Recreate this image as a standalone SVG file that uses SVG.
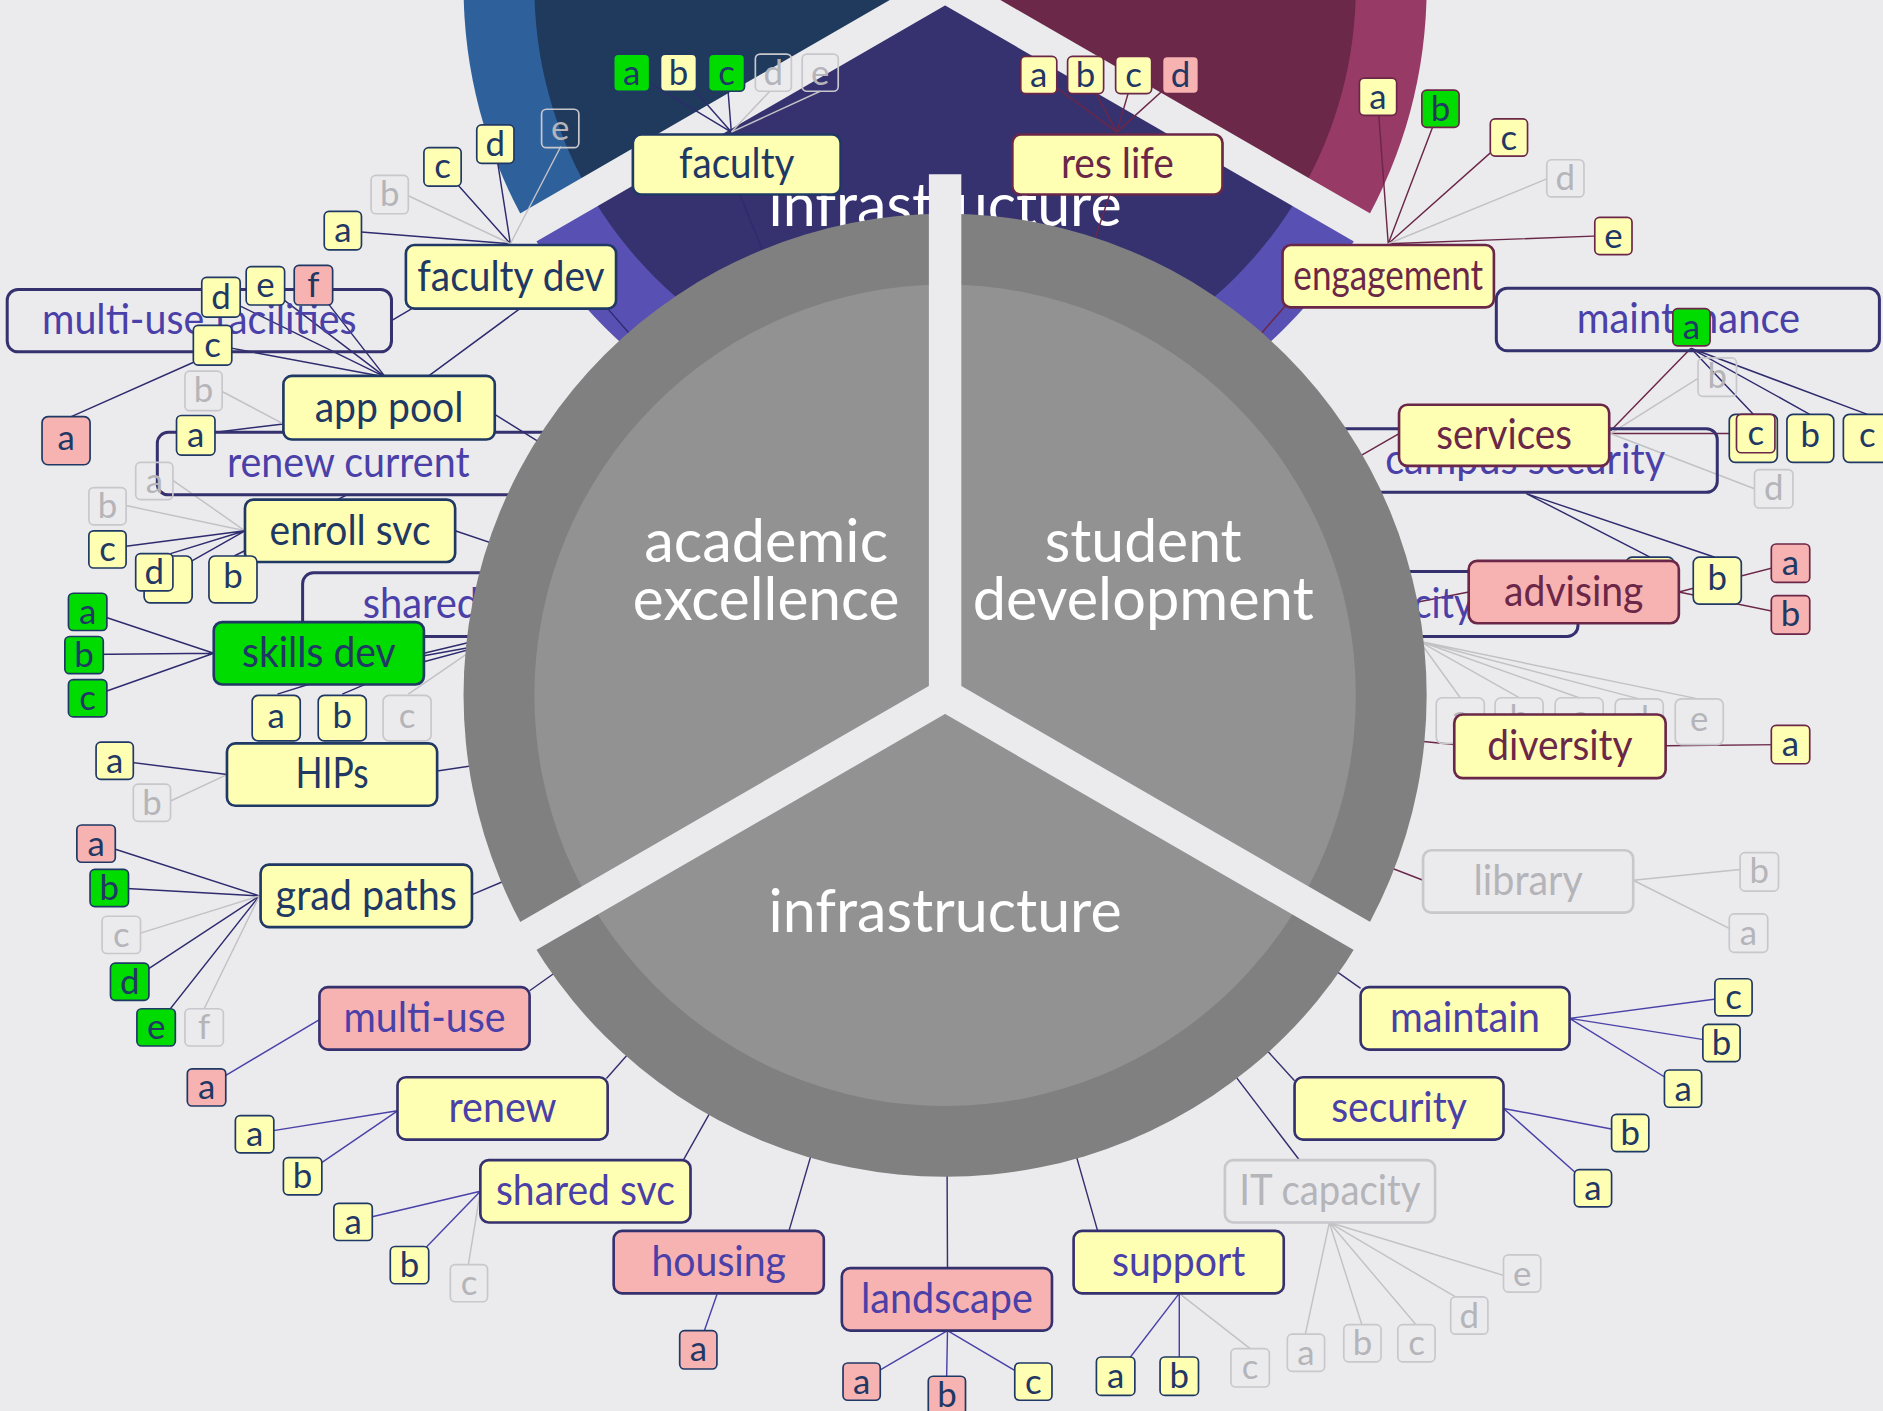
<svg xmlns="http://www.w3.org/2000/svg" width="1883" height="1411" viewBox="0 0 1883 1411">
<defs>
<style>
text{font-family:Lato,"Open Sans","Liberation Sans",sans-serif;text-anchor:middle}
.t1{font-size:35px}
.t2{font-size:29px}
.ta{fill:#1F3864}.tm{fill:#6B2748}.ti{fill:#4A40A8}.tg{fill:#B5B5B9}
.Y{fill:#FFFFB3}.P{fill:#F7B2B2}.G{fill:#00DC00}.N{fill:none}
.sa{stroke:#1F3864}.sm{stroke:#6B2748}.si{stroke:#35306E}.sg{stroke:#C8C8CC}
.b1{stroke-width:2.2}.b2{stroke-width:1.4}
.ln{fill:none;stroke-width:1.2}
.la{stroke:#2E2B6E}.lm{stroke:#6B2748}.li{stroke:#4A42A8}.lc{stroke:#35306E}.lg{stroke:#C2C2C6}
.ob{fill:none;stroke:#35306E;stroke-width:2.5}
.pt{fill:#FFFFFF;font-size:50px}
.gap{fill:none;stroke:#EBEBEE;stroke-width:27}
</style>
</defs>
<rect width="1883" height="1411" fill="#EBEBEE"/>
<g transform="scale(1.20089)">
<g id="top-pie">
<path d="M787,-11 L439.73,189.5 A401,401 0 0 1 787,-412 Z" fill="#2E619C"/>
<path d="M787,-11 L787,-412 A401,401 0 0 1 1134.27,189.5 Z" fill="#983A66"/>
<path d="M787,-11 L1134.27,189.5 A401,401 0 0 1 439.73,189.5 Z" fill="#5850B2"/>
<path d="M787,-11 L490.82,160 A342,342 0 0 1 787,-353 Z" fill="#1F3A5D"/>
<path d="M787,-11 L787,-353 A342,342 0 0 1 1083.18,160 Z" fill="#6B2849"/>
<path d="M787,-11 L1083.18,160 A342,342 0 0 1 490.82,160 Z" fill="#36316F"/>
<path class="gap" d="M787,-11 L411.1,206 M787,-11 L1162.9,206 M787,-11 V-500"/>
<text class="pt" x="787" y="188" textLength="294" lengthAdjust="spacingAndGlyphs">infrastructure</text>
</g>
<g id="connectors">
<path class="ln la" d="M526,60 L609,110 M565,60 L609,110 M605,60 L609,110"/>
<path class="ln lg" d="M641,76 L609,110 M683,76 L609,110"/>
<path class="ln la" d="M285,192 L425,203 M368,139 L425,203 M412,120 L425,203"/>
<path class="ln lg" d="M340,163 L425,203 M467,122 L425,203"/>
<path class="ln la" d="M184,247 L321,314 M221,238 L321,314 M261,237 L321,314 M177,287 L321,314 M163,362 L236,353 M57,348 L165,300 M343,257 L326,267 M433,257 L357,313"/>
<path class="ln lg" d="M185,326 L236,353"/>
<path class="ln lg" d="M144,400 L204,442 M105,421 L204,442"/>
<path class="ln la" d="M89,457 L204,442 M142,461 L204,442 M144,476 L204,442 M195,463 L205,458 M281,416 L289,412"/>
<path class="ln la" d="M73,509 L178,544 M70,545 L178,544 M73,581 L178,544 M231,578 L260,569 M285,578 L306,569 M353,544 L420,528 M353,546 L420,534 M353,551 L420,533"/>
<path class="ln lg" d="M340,578 L420,523"/>
<path class="ln la" d="M95,633 L189,645"/>
<path class="ln lg" d="M142,667 L189,645"/>
<path class="ln la" d="M80,702 L216,746 M91,739 L216,746 M108,817 L216,746 M130,855 L216,746"/>
<path class="ln lg" d="M117,777 L216,746 M170,840 L216,746"/>
<path class="ln la" d="M616,162 L787,579 M506,257 L787,579 M412,345 L787,579 M379,442 L787,579 M364,642 L787,579 M393,745 L787,579"/>
<path class="ln lm" d="M865,62 L930,110 M904,62 L930,110 M944,62 L930,110 M983,62 L930,110"/>
<path class="ln lm" d="M1147,80 L1156,203 M1199,90 L1156,203 M1256,114 L1156,203 M1343,196 L1156,203"/>
<path class="ln lg" d="M1288,149 L1156,203"/>
<path class="ln lm" d="M1341,361 L1462,361 M1408,290 L1341,359"/>
<path class="ln lg" d="M1341,361 L1414,315 M1341,361 L1461,407"/>
<path class="ln la" d="M1408,290 L1460,345 M1408,290 L1507,345 M1408,290 L1555,345 M1271,411 L1374,464 M1271,411 L1428,464"/>
<path class="ln lm" d="M1398,493 L1491,469 M1398,493 L1491,512 M1387,621 L1491,620"/>
<path class="ln lg" d="M1360,733 L1449,724 M1360,733 L1440,773"/>
<path class="ln lg" d="M1182,534 L1216,581 M1182,534 L1265,581 M1182,534 L1315,581 M1182,534 L1365,582 M1182,534 L1414,582"/>
<path class="ln lm" d="M924,162 L787,579 M1070,255 L787,579 M1165,361 L787,579 M1223,493 L787,579 M1211,620 L787,579 M1185,733 L787,579"/>
<path class="ln li" d="M172,905 L266,849 M212,944 L331,925 M252,979 L331,925 M294,1017 L400,992 M341,1053 L400,992 M581,1124 L597,1078 M717,1150 L789,1108 M788,1162 L789,1108 M860,1150 L789,1108 M929,1146 L982,1077 M982,1146 L982,1077 M1357,943 L1252,923 M1326,989 L1252,923 M1443,830 L1307,848 M1433,868 L1307,848 M1401,906 L1307,848"/>
<path class="ln lg" d="M390,1053 L400,992 M1041,1123 L982,1077 M1087,1111 L1107,1018 M1134,1103 L1107,1018 M1179,1103 L1107,1018 M1212,1080 L1107,1018 M1252,1062 L1107,1018"/>
<path class="ln lc" d="M441,825 L787,579 M505,898 L787,579 M569,966 L787,579 M657,1025 L787,579 M789,1056 L787,579 M914,1025 L787,579 M1082,966 L787,579 M1078,900 L787,579 M1133,823 L787,579"/>
</g>
<g id="outline-boxes">
<g id="o-multi-use-facilities"><rect class="ob" x="6" y="241" width="320" height="52" rx="9"/><text class="t1 ti" x="166" y="278.5" textLength="262" lengthAdjust="spacingAndGlyphs">multi-use facilities</text></g>
<g id="o-renew-current"><rect class="ob" x="131" y="360" width="350" height="52" rx="9"/><text class="t1 ti" x="290" y="397.5" textLength="202" lengthAdjust="spacingAndGlyphs">renew current</text></g>
<g id="o-shared"><rect class="ob" x="252" y="477" width="230" height="53" rx="9"/><text class="t1 ti" x="302" y="515" style="text-anchor:start" textLength="97" lengthAdjust="spacingAndGlyphs">shared</text></g>
<g id="o-city"><rect class="ob" x="1090" y="476" width="224" height="54" rx="9"/><text class="t1 ti" x="1227" y="515" style="text-anchor:end" textLength="50" lengthAdjust="spacingAndGlyphs">city</text></g>
<g id="o-campus-security"><rect class="ob" x="1095" y="357" width="335" height="53" rx="9"/><text class="t1 ti" x="1270" y="395" textLength="233" lengthAdjust="spacingAndGlyphs">campus security</text></g>
<g id="o-maintenance"><rect class="ob" x="1246" y="240" width="319" height="52" rx="9"/><text class="t1 ti" x="1406" y="277.5" textLength="186" lengthAdjust="spacingAndGlyphs">maintenance</text></g>
</g>
<g id="main-pie">
<circle cx="787" cy="579" r="401" fill="#808080"/>
<circle cx="787" cy="579" r="342" fill="#929292"/>
<path class="gap" d="M787,579 V145 M787,579 L411.1,796 M787,579 L1162.9,796"/>
<text class="pt" x="638" y="468" textLength="203" lengthAdjust="spacingAndGlyphs">academic</text>
<text class="pt" x="638" y="516" textLength="222" lengthAdjust="spacingAndGlyphs">excellence</text>
<text class="pt" x="952" y="468" textLength="164" lengthAdjust="spacingAndGlyphs">student</text>
<text class="pt" x="952" y="516" textLength="284" lengthAdjust="spacingAndGlyphs">development</text>
<text class="pt" x="787" y="776" textLength="294" lengthAdjust="spacingAndGlyphs">infrastructure</text>
</g>
<g id="nodes">
<g id="n-faculty"><rect class="Y sa b1" x="527" y="112" width="173" height="50" rx="7"/><text class="t1 ta" x="613.5" y="148.5" textLength="96" lengthAdjust="spacingAndGlyphs">faculty</text></g>
<g id="fa-a"><rect class="G sa b2" x="511" y="45" width="30" height="31" rx="4"/><text class="t2 ta" x="526" y="70.5">a</text></g>
<g id="fa-b"><rect class="Y sa b2" x="550" y="45" width="30" height="31" rx="4"/><text class="t2 ta" x="565" y="70.5">b</text></g>
<g id="fa-c"><rect class="G sa b2" x="590" y="45" width="30" height="31" rx="4"/><text class="t2 ta" x="605" y="70.5">c</text></g>
<g id="fa-d"><rect class="N sg b2" x="629" y="45" width="30" height="31" rx="4"/><text class="t2 tg" x="644" y="70.5">d</text></g>
<g id="fa-e"><rect class="N sg b2" x="668" y="45" width="30" height="31" rx="4"/><text class="t2 tg" x="683" y="70.5">e</text></g>

<g id="n-faculty-dev"><rect class="Y sa b1" x="338" y="204" width="175" height="53" rx="7"/><text class="t1 ta" x="425.5" y="242" textLength="156" lengthAdjust="spacingAndGlyphs">faculty dev</text></g>
<g id="fd-a"><rect class="Y sa b2" x="270" y="176" width="31" height="32" rx="4"/><text class="t2 ta" x="285.5" y="201.5">a</text></g>
<g id="fd-b"><rect class="N sg b2" x="309" y="146" width="31" height="32" rx="4"/><text class="t2 tg" x="324.5" y="171.5">b</text></g>
<g id="fd-c"><rect class="Y sa b2" x="353" y="123" width="31" height="32" rx="4"/><text class="t2 ta" x="368.5" y="148.5">c</text></g>
<g id="fd-d"><rect class="Y sa b2" x="397" y="104" width="31" height="32" rx="4"/><text class="t2 ta" x="412.5" y="129.5">d</text></g>
<g id="fd-e"><rect class="N sg b2" x="451" y="91" width="31" height="32" rx="4"/><text class="t2 tg" x="466.5" y="116.5">e</text></g>

<g id="n-app-pool"><rect class="Y sa b1" x="236" y="313" width="176" height="53" rx="7"/><text class="t1 ta" x="324" y="351" textLength="124" lengthAdjust="spacingAndGlyphs">app pool</text></g>
<g id="ap-d"><rect class="Y sa b2" x="168" y="231" width="32" height="33" rx="4"/><text class="t2 ta" x="184" y="257">d</text></g>
<g id="ap-e"><rect class="Y sa b2" x="205" y="222" width="32" height="32" rx="4"/><text class="t2 ta" x="221" y="247.5">e</text></g>
<g id="ap-f"><rect class="P sa b2" x="245" y="221" width="32" height="33" rx="4"/><text class="t2 ta" x="261" y="247">f</text></g>
<g id="ap-c"><rect class="Y sa b2" x="161" y="271" width="32" height="33" rx="4"/><text class="t2 ta" x="177" y="297">c</text></g>
<g id="ap-b"><rect class="N sg b2" x="154" y="309" width="31" height="33" rx="4"/><text class="t2 tg" x="169.5" y="335">b</text></g>
<g id="ap-a"><rect class="Y sa b2" x="147" y="346" width="32" height="33" rx="4"/><text class="t2 ta" x="163" y="372">a</text></g>
<g id="ap-a2"><rect class="P sa b2" x="35" y="347" width="40" height="40" rx="5"/><text class="t2 ta" x="55" y="375">a</text></g>

<g id="n-enroll-svc"><rect class="Y sa b1" x="204" y="416" width="175" height="52" rx="7"/><text class="t1 ta" x="291.5" y="453.5" textLength="134" lengthAdjust="spacingAndGlyphs">enroll svc</text></g>
<g id="es-a"><rect class="N sg b2" x="113" y="385" width="31" height="31" rx="4"/><text class="t2 tg" x="128.5" y="410.5">a</text></g>
<g id="es-b"><rect class="N sg b2" x="74" y="406" width="31" height="31" rx="4"/><text class="t2 tg" x="89.5" y="431.5">b</text></g>
<g id="es-c"><rect class="Y sa b2" x="74" y="442" width="31" height="31" rx="4"/><text class="t2 ta" x="89.5" y="467.5">c</text></g>
<g id="es-d2"><rect class="Y sa b2" x="120" y="463" width="40" height="39" rx="5"/></g>
<g id="es-d"><rect class="Y sa b2" x="113" y="461" width="31" height="31" rx="4"/><text class="t2 ta" x="128.5" y="486.5">d</text></g>
<g id="es-b2"><rect class="Y sa b2" x="174" y="463" width="40" height="39" rx="5"/><text class="t2 ta" x="194" y="490">b</text></g>

<g id="n-skills-dev"><rect class="G sa b1" x="178" y="518" width="175" height="52" rx="7"/><text class="t1 ta" x="265.5" y="555.5" textLength="128" lengthAdjust="spacingAndGlyphs">skills dev</text></g>
<g id="sd-a"><rect class="G sa b2" x="57" y="494" width="32" height="31" rx="4"/><text class="t2 ta" x="73" y="519.5">a</text></g>
<g id="sd-b"><rect class="G sa b2" x="54" y="530" width="32" height="31" rx="4"/><text class="t2 ta" x="70" y="555.5">b</text></g>
<g id="sd-c"><rect class="G sa b2" x="57" y="566" width="32" height="31" rx="4"/><text class="t2 ta" x="73" y="591.5">c</text></g>
<g id="sd-a2"><rect class="Y sa b2" x="210" y="579" width="40" height="38" rx="5"/><text class="t2 ta" x="230" y="606">a</text></g>
<g id="sd-b2"><rect class="Y sa b2" x="265" y="579" width="40" height="38" rx="5"/><text class="t2 ta" x="285" y="606">b</text></g>
<g id="sd-c2"><rect class="N sg b2" x="319" y="579" width="40" height="38" rx="5"/><text class="t2 tg" x="339" y="606">c</text></g>

<g id="n-hips"><rect class="Y sa b1" x="189" y="619" width="175" height="52" rx="7"/><text class="t1 ta" x="276.5" y="656.5" textLength="61" lengthAdjust="spacingAndGlyphs">HIPs</text></g>
<g id="hp-a"><rect class="Y sa b2" x="80" y="618" width="31" height="31" rx="4"/><text class="t2 ta" x="95.5" y="643.5">a</text></g>
<g id="hp-b"><rect class="N sg b2" x="111" y="653" width="31" height="31" rx="4"/><text class="t2 tg" x="126.5" y="678.5">b</text></g>

<g id="n-grad-paths"><rect class="Y sa b1" x="217" y="720" width="176" height="52" rx="7"/><text class="t1 ta" x="305" y="757.5" textLength="151" lengthAdjust="spacingAndGlyphs">grad paths</text></g>
<g id="gp-a"><rect class="P sa b2" x="64" y="687" width="32" height="31" rx="4"/><text class="t2 ta" x="80" y="712.5">a</text></g>
<g id="gp-b"><rect class="G sa b2" x="75" y="724" width="32" height="31" rx="4"/><text class="t2 ta" x="91" y="749.5">b</text></g>
<g id="gp-c"><rect class="N sg b2" x="85" y="763" width="32" height="31" rx="4"/><text class="t2 tg" x="101" y="788.5">c</text></g>
<g id="gp-d"><rect class="G sa b2" x="92" y="802" width="32" height="31" rx="4"/><text class="t2 ta" x="108" y="827.5">d</text></g>
<g id="gp-e"><rect class="G sa b2" x="114" y="840" width="32" height="31" rx="4"/><text class="t2 ta" x="130" y="865.5">e</text></g>
<g id="gp-f"><rect class="N sg b2" x="154" y="840" width="32" height="31" rx="4"/><text class="t2 tg" x="170" y="865.5">f</text></g>

<g id="n-res-life"><rect class="Y sm b1" x="843" y="112" width="175" height="50" rx="7"/><text class="t1 tm" x="930.5" y="148.5" textLength="94" lengthAdjust="spacingAndGlyphs">res life</text></g>
<g id="rl-a"><rect class="Y sm b2" x="850" y="47" width="30" height="31" rx="4"/><text class="t2 ta" x="865" y="72.5">a</text></g>
<g id="rl-b"><rect class="Y sm b2" x="889" y="47" width="30" height="31" rx="4"/><text class="t2 ta" x="904" y="72.5">b</text></g>
<g id="rl-c"><rect class="Y sm b2" x="929" y="47" width="30" height="31" rx="4"/><text class="t2 ta" x="944" y="72.5">c</text></g>
<g id="rl-d"><rect class="P sm b2" x="968" y="47" width="30" height="31" rx="4"/><text class="t2 ta" x="983" y="72.5">d</text></g>

<g id="n-engagement"><rect class="Y sm b1" x="1068" y="204" width="176" height="52" rx="7"/><text class="t1 tm" x="1156" y="241.5" textLength="158" lengthAdjust="spacingAndGlyphs">engagement</text></g>
<g id="en-a"><rect class="Y sm b2" x="1132" y="65" width="31" height="31" rx="4"/><text class="t2 ta" x="1147.5" y="90.5">a</text></g>
<g id="en-b"><rect class="G sm b2" x="1184" y="75" width="31" height="31" rx="4"/><text class="t2 ta" x="1199.5" y="100.5">b</text></g>
<g id="en-c"><rect class="Y sm b2" x="1241" y="99" width="31" height="31" rx="4"/><text class="t2 ta" x="1256.5" y="124.5">c</text></g>
<g id="en-d"><rect class="N sg b2" x="1288" y="133" width="31" height="31" rx="4"/><text class="t2 tg" x="1303.5" y="158.5">d</text></g>
<g id="en-e"><rect class="Y sm b2" x="1328" y="181" width="31" height="31" rx="4"/><text class="t2 ta" x="1343.5" y="206.5">e</text></g>

<g id="mt-a"><rect class="G sm b2" x="1393" y="257" width="31" height="31" rx="4"/><text class="t2 ta" x="1408.5" y="282.5">a</text></g>
<g id="cs-c0"><rect class="Y sa b2" x="1440" y="345" width="40" height="40" rx="5"/></g>
<g id="cs-b"><rect class="Y sa b2" x="1488" y="345" width="39" height="40" rx="5"/><text class="t2 ta" x="1507.5" y="372">b</text></g>
<g id="cs-c2"><rect class="Y sa b2" x="1535" y="345" width="40" height="40" rx="5"/><text class="t2 ta" x="1555" y="372">c</text></g>

<g id="n-services"><rect class="Y sm b1" x="1165" y="337" width="175" height="51" rx="7"/><text class="t1 tm" x="1252.5" y="374" textLength="113" lengthAdjust="spacingAndGlyphs">services</text></g>
<g id="sv-b"><rect class="N sg b2" x="1414" y="298" width="32" height="32" rx="4"/><text class="t2 tg" x="1430" y="323.5">b</text></g>
<g id="sv-c"><rect class="Y sm b2" x="1446" y="345" width="32" height="32" rx="4"/><text class="t2 ta" x="1462" y="370.5">c</text></g>
<g id="sv-d"><rect class="N sg b2" x="1461" y="391" width="32" height="32" rx="4"/><text class="t2 tg" x="1477" y="416.5">d</text></g>

<g id="av-h"><rect class="Y sa b2" x="1354" y="464" width="40" height="39" rx="5"/></g>
<g id="av-b-y"><rect class="Y sa b2" x="1410" y="464" width="40" height="39" rx="5"/><text class="t2 ta" x="1430" y="491">b</text></g>
<g id="n-advising"><rect class="P sm b1" x="1223" y="467" width="175" height="52" rx="7"/><text class="t1 tm" x="1310.5" y="504.5" textLength="116" lengthAdjust="spacingAndGlyphs">advising</text></g>
<g id="av-a"><rect class="P sm b2" x="1475" y="453" width="32" height="32" rx="4"/><text class="t2 ta" x="1491" y="478.5">a</text></g>
<g id="av-b"><rect class="P sm b2" x="1475" y="496" width="32" height="32" rx="4"/><text class="t2 ta" x="1491" y="521.5">b</text></g>

<g id="gy-a"><rect class="N sg b2" x="1196" y="581" width="40" height="38" rx="5"/><text class="t2 tg" x="1216" y="608">a</text></g>
<g id="gy-b"><rect class="N sg b2" x="1245" y="581" width="40" height="38" rx="5"/><text class="t2 tg" x="1265" y="608">b</text></g>
<g id="gy-c"><rect class="N sg b2" x="1295" y="581" width="40" height="38" rx="5"/><text class="t2 tg" x="1315" y="608">c</text></g>
<g id="gy-d"><rect class="N sg b2" x="1345" y="582" width="40" height="38" rx="5"/><text class="t2 tg" x="1365" y="609">d</text></g>
<g id="gy-e"><rect class="N sg b2" x="1395" y="582" width="40" height="38" rx="5"/><text class="t2 tg" x="1415" y="609">e</text></g>
<g id="n-diversity"><rect class="Y sm b1" x="1211" y="595" width="176" height="53" rx="7"/><text class="t1 tm" x="1299" y="633" textLength="121" lengthAdjust="spacingAndGlyphs">diversity</text></g>
<g id="dv-a"><rect class="Y sm b2" x="1475" y="604" width="32" height="32" rx="4"/><text class="t2 ta" x="1491" y="629.5">a</text></g>

<g id="n-library"><rect class="N sg b1" x="1185" y="708" width="175" height="52" rx="7"/><text class="t1 tg" x="1272.5" y="745.5" textLength="91" lengthAdjust="spacingAndGlyphs">library</text></g>
<g id="lb-b"><rect class="N sg b2" x="1449" y="710" width="32" height="32" rx="4"/><text class="t2 tg" x="1465" y="735.5">b</text></g>
<g id="lb-a"><rect class="N sg b2" x="1440" y="761" width="32" height="32" rx="4"/><text class="t2 tg" x="1456" y="786.5">a</text></g>

<g id="n-multi-use"><rect class="P si b1" x="266" y="822" width="175" height="52" rx="7"/><text class="t1 ti" x="353.5" y="859.5" textLength="135" lengthAdjust="spacingAndGlyphs">multi-use</text></g>
<g id="mu-a"><rect class="P sa b2" x="156" y="890" width="32" height="31" rx="4"/><text class="t2 ta" x="172" y="915.5">a</text></g>
<g id="n-renew"><rect class="Y si b1" x="331" y="897" width="175" height="52" rx="7"/><text class="t1 ti" x="418.5" y="934.5" textLength="90" lengthAdjust="spacingAndGlyphs">renew</text></g>
<g id="rn-a"><rect class="Y sa b2" x="196" y="929" width="32" height="31" rx="4"/><text class="t2 ta" x="212" y="954.5">a</text></g>
<g id="rn-b"><rect class="Y sa b2" x="236" y="964" width="32" height="31" rx="4"/><text class="t2 ta" x="252" y="989.5">b</text></g>
<g id="n-shared-svc"><rect class="Y si b1" x="400" y="966" width="175" height="52" rx="7"/><text class="t1 ti" x="487.5" y="1003.5" textLength="149" lengthAdjust="spacingAndGlyphs">shared svc</text></g>
<g id="ss-a"><rect class="Y sa b2" x="278" y="1002" width="32" height="31" rx="4"/><text class="t2 ta" x="294" y="1027.5">a</text></g>
<g id="ss-b"><rect class="Y sa b2" x="325" y="1038" width="32" height="31" rx="4"/><text class="t2 ta" x="341" y="1063.5">b</text></g>
<g id="ss-c"><rect class="N sg b2" x="375" y="1053" width="31" height="31" rx="4"/><text class="t2 tg" x="390.5" y="1078.5">c</text></g>
<g id="n-housing"><rect class="P si b1" x="511" y="1025" width="175" height="52" rx="7"/><text class="t1 ti" x="598.5" y="1062.5" textLength="112" lengthAdjust="spacingAndGlyphs">housing</text></g>
<g id="hs-a"><rect class="P sa b2" x="566" y="1108" width="31" height="32" rx="4"/><text class="t2 ta" x="581.5" y="1133.5">a</text></g>
<g id="n-landscape"><rect class="P si b1" x="701" y="1056" width="175" height="52" rx="7"/><text class="t1 ti" x="788.5" y="1093.5" textLength="143" lengthAdjust="spacingAndGlyphs">landscape</text></g>
<g id="ls-a"><rect class="P sa b2" x="702" y="1135" width="31" height="31" rx="4"/><text class="t2 ta" x="717.5" y="1160.5">a</text></g>
<g id="ls-b"><rect class="P sa b2" x="773" y="1146" width="31" height="32" rx="4"/><text class="t2 ta" x="788.5" y="1171.5">b</text></g>
<g id="ls-c"><rect class="Y sa b2" x="845" y="1135" width="31" height="31" rx="4"/><text class="t2 ta" x="860.5" y="1160.5">c</text></g>
<g id="n-support"><rect class="Y si b1" x="894" y="1025" width="175" height="52" rx="7"/><text class="t1 ti" x="981.5" y="1062.5" textLength="111" lengthAdjust="spacingAndGlyphs">support</text></g>
<g id="su-a"><rect class="Y sa b2" x="913" y="1130" width="32" height="32" rx="4"/><text class="t2 ta" x="929" y="1155.5">a</text></g>
<g id="su-b"><rect class="Y sa b2" x="966" y="1130" width="32" height="32" rx="4"/><text class="t2 ta" x="982" y="1155.5">b</text></g>
<g id="su-c"><rect class="N sg b2" x="1025" y="1123" width="32" height="32" rx="4"/><text class="t2 tg" x="1041" y="1148.5">c</text></g>
<g id="n-it-capacity"><rect class="N sg b1" x="1020" y="966" width="175" height="52" rx="7"/><text class="t1 tg" x="1107.5" y="1003.5" textLength="151" lengthAdjust="spacingAndGlyphs">IT capacity</text></g>
<g id="it-a"><rect class="N sg b2" x="1072" y="1111" width="31" height="31" rx="4"/><text class="t2 tg" x="1087.5" y="1136.5">a</text></g>
<g id="it-b"><rect class="N sg b2" x="1119" y="1103" width="31" height="31" rx="4"/><text class="t2 tg" x="1134.5" y="1128.5">b</text></g>
<g id="it-c"><rect class="N sg b2" x="1164" y="1103" width="31" height="31" rx="4"/><text class="t2 tg" x="1179.5" y="1128.5">c</text></g>
<g id="it-d"><rect class="N sg b2" x="1208" y="1080" width="31" height="31" rx="4"/><text class="t2 tg" x="1223.5" y="1105.5">d</text></g>
<g id="it-e"><rect class="N sg b2" x="1252" y="1045" width="31" height="31" rx="4"/><text class="t2 tg" x="1267.5" y="1070.5">e</text></g>
<g id="n-security"><rect class="Y si b1" x="1078" y="897" width="174" height="52" rx="7"/><text class="t1 ti" x="1165" y="934.5" textLength="113" lengthAdjust="spacingAndGlyphs">security</text></g>
<g id="se-b"><rect class="Y sa b2" x="1342" y="928" width="31" height="31" rx="4"/><text class="t2 ta" x="1357.5" y="953.5">b</text></g>
<g id="se-a"><rect class="Y sa b2" x="1311" y="974" width="31" height="31" rx="4"/><text class="t2 ta" x="1326.5" y="999.5">a</text></g>
<g id="n-maintain"><rect class="Y si b1" x="1133" y="822" width="174" height="52" rx="7"/><text class="t1 ti" x="1220" y="859.5" textLength="125" lengthAdjust="spacingAndGlyphs">maintain</text></g>
<g id="mn-c"><rect class="Y sa b2" x="1428" y="815" width="31" height="31" rx="4"/><text class="t2 ta" x="1443.5" y="840.5">c</text></g>
<g id="mn-b"><rect class="Y sa b2" x="1418" y="853" width="31" height="31" rx="4"/><text class="t2 ta" x="1433.5" y="878.5">b</text></g>
<g id="mn-a"><rect class="Y sa b2" x="1386" y="891" width="31" height="31" rx="4"/><text class="t2 ta" x="1401.5" y="916.5">a</text></g>
</g>
</g>
</svg>
